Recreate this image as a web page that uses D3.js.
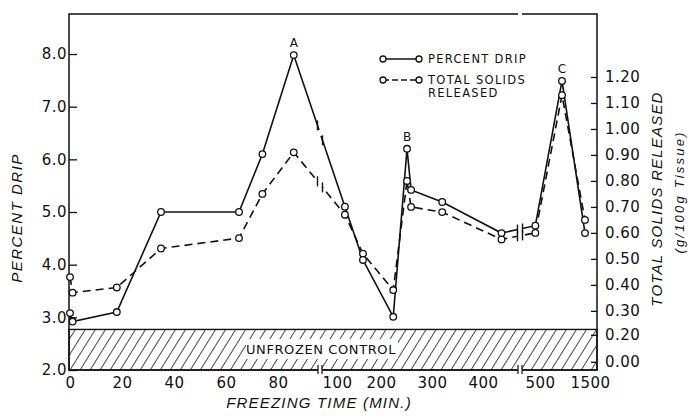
<!DOCTYPE html>
<html>
<head>
<meta charset="utf-8">
<script src="https://cdn.jsdelivr.net/npm/d3@7"></script>
<style>
  body { margin: 0; background: #fff; }
  text { fill: #111; }
  .tick-label { font-family: "DejaVu Sans", sans-serif; font-size: 15px; letter-spacing: 0.5px; }
  .title { font-family: "Liberation Sans", Arial, sans-serif; font-style: italic; font-size: 15px; }
  .legend-text { font-family: "DejaVu Sans", sans-serif; font-size: 11.5px; letter-spacing: 1.3px; }
</style>
</head>
<body>
<div class="visualization"></div>
<script>
// freezing time (min) for each sample
const sampleTimes = [0, 1, 18, 35, 65, 74, 86, 118, 159, 224, 251, 259, 320, 435, 493, 940, 1400];
// percent drip (left axis)
const percentDrip = [3.08, 2.92, 3.1, 5.0, 5.0, 6.1, 7.98, 5.1, 4.09, 3.01, 6.2, 5.42, 5.19, 4.6, 4.74, 7.49, 4.6];
// total solids released, g/100g tissue (right axis)
const solidsReleased = [0.43, 0.37, 0.39, 0.54, 0.58, 0.75, 0.91, 0.67, 0.52, 0.38, 0.8, 0.7, 0.68, 0.575, 0.6, 1.13, 0.65];

const xTicks = [0, 20, 40, 60, 80, 100, 200, 300, 400, 500, 1500];
const leftTicks = [2, 3, 4, 5, 6, 7, 8];
const rightTicks = [0, 0.2, 0.3, 0.4, 0.5, 0.6, 0.7, 0.8, 0.9, 1.0, 1.1, 1.2];
const peakLabels = [
  { label: "A", index: 6 },
  { label: "B", index: 10 },
  { label: "C", index: 15 },
];
const unfrozenControl = 2.77; // top of hatched band, percent drip
const axisBreaks = [96, 470]; // where the time axis is broken

const width = 688;
const height = 417;
const margin = { left: 69, right: 597, top: 14, bottom: 370 };

// broken time axis -> piecewise linear scale
const x = d3.scaleLinear()
  .domain([0, 80, 96, 100, 200, 300, 400, 470, 500, 1500])
  .range([70, 278, 320, 337, 381, 432, 483, 520, 540, 590]);

const yLeft = d3.scaleLinear().domain([2, 8.76]).range([margin.bottom, margin.top]);
const yRight = d3.scaleLinear()
  .domain([0, 0.2, 0.3, 1.2])
  .range([yLeft(2.156), yLeft(2.668), yLeft(3.123), yLeft(7.564)]);

const svg = d3.select(".visualization")
  .append("svg")
  .attr("width", width)
  .attr("height", height);

svg.append("rect").attr("width", width).attr("height", height).attr("fill", "#fff");

// hatch pattern for the unfrozen control band
svg.append("defs")
  .append("pattern")
  .attr("id", "hatch")
  .attr("patternUnits", "userSpaceOnUse")
  .attr("width", 8.5)
  .attr("height", 8.5)
  .attr("patternTransform", "rotate(32)")
  .append("line")
  .attr("x1", 0).attr("y1", 0).attr("x2", 0).attr("y2", 8.5)
  .attr("stroke", "#111")
  .attr("stroke-width", 1.5);

svg.append("rect")
  .attr("x", margin.left)
  .attr("y", yLeft(unfrozenControl))
  .attr("width", margin.right - margin.left)
  .attr("height", yLeft(2) - yLeft(unfrozenControl))
  .attr("fill", "url(#hatch)")
  .attr("stroke", "#111")
  .attr("stroke-width", 1.4);

svg.append("rect")
  .attr("x", 246).attr("y", 339)
  .attr("width", 152).attr("height", 20)
  .attr("fill", "#fff");

svg.append("text")
  .attr("x", 321).attr("y", 350)
  .attr("text-anchor", "middle")
  .attr("dominant-baseline", "middle")
  .style("font-family", "DejaVu Sans, sans-serif")
  .style("font-size", "13px")
  .style("letter-spacing", "0.6px")
  .text("UNFROZEN CONTROL");

// frame
svg.append("rect")
  .attr("x", margin.left).attr("y", margin.top)
  .attr("width", margin.right - margin.left).attr("height", margin.bottom - margin.top)
  .attr("fill", "none")
  .attr("stroke", "#111")
  .attr("stroke-width", 1.5);

// left axis, ticks pointing inward
const leftAxis = svg.append("g")
  .attr("transform", `translate(${margin.left}, 0)`)
  .call(d3.axisLeft(yLeft).tickValues(leftTicks).tickSize(-8).tickPadding(2).tickFormat(d3.format(".1f")));
leftAxis.select(".domain").remove();
leftAxis.selectAll("line").attr("stroke", "#111").attr("stroke-width", 1.3);
leftAxis.selectAll("text").attr("class", "tick-label").attr("fill", "#111");

// right axis
const rightAxis = svg.append("g")
  .attr("transform", `translate(${margin.right}, 0)`)
  .call(d3.axisRight(yRight).tickValues(rightTicks).tickSize(-6).tickPadding(8).tickFormat(d3.format(".2f")));
rightAxis.select(".domain").remove();
rightAxis.selectAll("line").attr("stroke", "#111").attr("stroke-width", 1.3);
rightAxis.selectAll("text").attr("class", "tick-label").attr("fill", "#111");

// time axis
const xAxis = svg.append("g")
  .attr("transform", `translate(0, ${margin.bottom})`)
  .call(d3.axisBottom(x).tickValues(xTicks).tickSize(0).tickPadding(7).tickFormat(d3.format("d")));
xAxis.select(".domain").remove();
xAxis.selectAll("text").attr("class", "tick-label").attr("fill", "#111");

// axis break marks on the frame
axisBreaks.forEach((t, k) => {
  const bx = x(t);
  svg.append("rect").attr("x", bx - 2).attr("y", margin.bottom - 1.5).attr("width", 4).attr("height", 3).attr("fill", "#fff");
  if (k === 1) {
    svg.append("rect").attr("x", bx - 2).attr("y", margin.top - 1.5).attr("width", 4).attr("height", 3).attr("fill", "#fff");
  }
  [-2, 2].forEach((off) => {
    svg.append("line")
      .attr("x1", bx + off).attr("x2", bx + off)
      .attr("y1", margin.bottom - 5).attr("y2", margin.bottom + 4)
      .attr("stroke", "#111").attr("stroke-width", 1.2);
  });
});

// titles
svg.append("text")
  .attr("class", "title")
  .attr("x", 319).attr("y", 408)
  .attr("text-anchor", "middle")
  .style("letter-spacing", "1.2px")
  .text("FREEZING TIME (MIN.)");

svg.append("text")
  .attr("class", "title")
  .attr("transform", `translate(22, 218) rotate(-90)`)
  .attr("text-anchor", "middle")
  .style("letter-spacing", "1.5px")
  .text("PERCENT DRIP");

svg.append("text")
  .attr("class", "title")
  .attr("transform", `translate(662, 199) rotate(-90)`)
  .attr("text-anchor", "middle")
  .style("letter-spacing", "1.2px")
  .text("TOTAL SOLIDS RELEASED");

svg.append("text")
  .attr("class", "title")
  .attr("transform", `translate(684, 192) rotate(-90)`)
  .attr("text-anchor", "middle")
  .style("font-size", "13px")
  .style("letter-spacing", "2.2px")
  .text("(g/100g Tissue)");

// series
const dripPoints = sampleTimes.map((t, i) => [x(t), yLeft(percentDrip[i])]);
const solidsPoints = sampleTimes.map((t, i) => [x(t), yRight(solidsReleased[i])]);

const line = d3.line();

svg.append("path")
  .attr("d", line(solidsPoints))
  .attr("fill", "none")
  .attr("stroke", "#111")
  .attr("stroke-width", 1.6)
  .attr("stroke-dasharray", "8,5");

svg.append("path")
  .attr("d", line(dripPoints))
  .attr("fill", "none")
  .attr("stroke", "#111")
  .attr("stroke-width", 1.6);

// break marks on the lines where they cross the axis breaks
function yAt(points, px) {
  for (let i = 0; i < points.length - 1; i++) {
    const a = points[i], b = points[i + 1];
    if (a[0] <= px && b[0] >= px && b[0] > a[0]) {
      return a[1] + ((px - a[0]) / (b[0] - a[0])) * (b[1] - a[1]);
    }
  }
  return null;
}

[dripPoints, solidsPoints].forEach((points) => {
  axisBreaks.forEach((t) => {
    const bx = x(t);
    const yc = yAt(points, bx);
    if (yc === null) return;
    svg.append("rect")
      .attr("x", bx - 2).attr("y", yc - 3)
      .attr("width", 4).attr("height", 6)
      .attr("fill", "#fff");
    [-2.5, 2.5].forEach((off) => {
      const yy = yAt(points, bx + off);
      svg.append("line")
        .attr("x1", bx + off).attr("x2", bx + off)
        .attr("y1", yy - 5).attr("y2", yy + 5)
        .attr("stroke", "#111").attr("stroke-width", 1.4);
    });
  });
});

// markers
[solidsPoints, dripPoints].forEach((points) => {
  svg.append("g")
    .selectAll("circle")
    .data(points)
    .enter()
    .append("circle")
    .attr("cx", (d) => d[0])
    .attr("cy", (d) => d[1])
    .attr("r", 3.3)
    .attr("fill", "#fff")
    .attr("stroke", "#111")
    .attr("stroke-width", 1.3);
});

// peak letters
svg.append("g")
  .selectAll("text")
  .data(peakLabels)
  .enter()
  .append("text")
  .attr("x", (d) => x(sampleTimes[d.index]))
  .attr("y", (d) => yLeft(percentDrip[d.index]) - 8)
  .attr("text-anchor", "middle")
  .style("font-family", "DejaVu Sans, sans-serif")
  .style("font-size", "12px")
  .text((d) => d.label);

// legend
const legendRows = [
  { y: 59, dash: null, lines: ["PERCENT DRIP"] },
  { y: 80, dash: "6,3", lines: ["TOTAL SOLIDS", "RELEASED"] },
];
const legend = svg.append("g");
legendRows.forEach((row) => {
  legend.append("line")
    .attr("x1", 383).attr("x2", 419)
    .attr("y1", row.y).attr("y2", row.y)
    .attr("stroke", "#111")
    .attr("stroke-width", 1.6)
    .attr("stroke-dasharray", row.dash);
  [383, 419].forEach((cx) => {
    legend.append("circle")
      .attr("cx", cx).attr("cy", row.y).attr("r", 3)
      .attr("fill", "#fff").attr("stroke", "#111").attr("stroke-width", 1.3);
  });
  row.lines.forEach((t, i) => {
    legend.append("text")
      .attr("class", "legend-text")
      .attr("x", 428)
      .attr("y", row.y + i * 13)
      .attr("dominant-baseline", "middle")
      .text(t);
  });
});
</script>
</body>
</html>
